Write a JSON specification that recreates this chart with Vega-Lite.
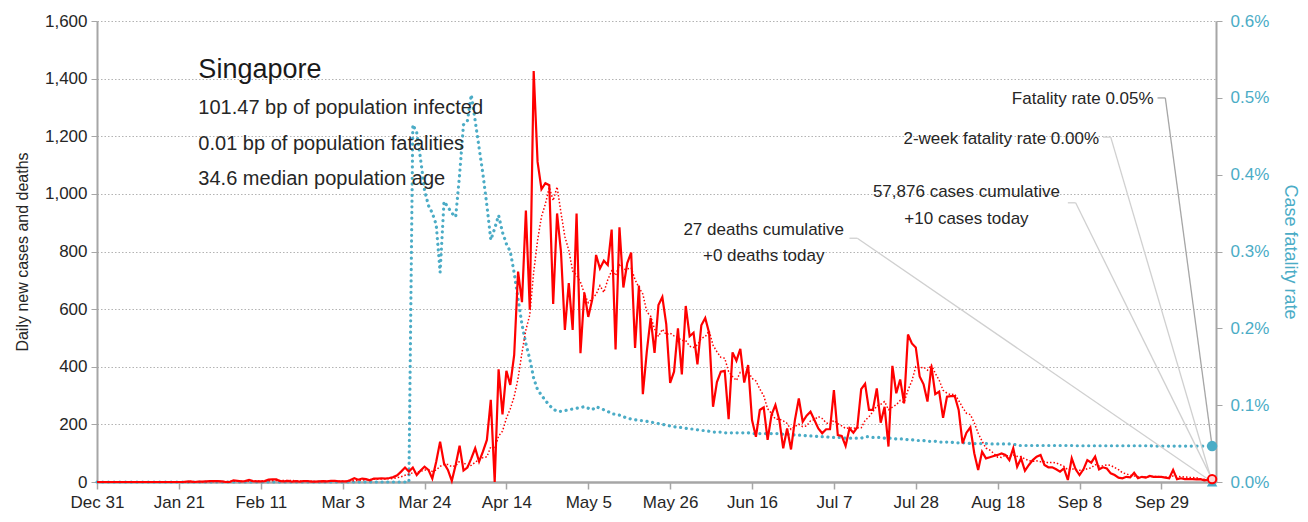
{
"$schema":"https://vega.github.io/schema/vega-lite/v6.json",
"width":1119,"height":461,
"autosize":{"type":"none"},
"padding":{"left":97,"top":21,"right":92,"bottom":40},
"background":"white",
"config":{"font":"Liberation Sans","view":{"stroke":null},
"axis":{"labelFont":"Liberation Sans","titleFont":"Liberation Sans","titleFontWeight":"normal","domainColor":"#a6a6a6","tickColor":"#a6a6a6","labelColor":"#262626","titleColor":"#262626"}},
"datasets":{
"series":[
{"date":"2019-12-31","cases":0,"cfr":0},{"date":"2020-01-01","cases":0,"cfr":0},{"date":"2020-01-02","cases":0,"cfr":0},{"date":"2020-01-03","cases":0,"cfr":0},{"date":"2020-01-04","cases":0,"cfr":0},{"date":"2020-01-05","cases":0,"cfr":0},{"date":"2020-01-06","cases":0,"cfr":0},{"date":"2020-01-07","cases":0,"cfr":0},{"date":"2020-01-08","cases":0,"cfr":0},{"date":"2020-01-09","cases":0,"cfr":0},{"date":"2020-01-10","cases":0,"cfr":0},{"date":"2020-01-11","cases":0,"cfr":0},{"date":"2020-01-12","cases":0,"cfr":0},{"date":"2020-01-13","cases":0,"cfr":0},{"date":"2020-01-14","cases":0,"cfr":0},{"date":"2020-01-15","cases":0,"cfr":0},{"date":"2020-01-16","cases":0,"cfr":0},{"date":"2020-01-17","cases":0,"cfr":0},{"date":"2020-01-18","cases":0,"cfr":0},{"date":"2020-01-19","cases":0,"cfr":0},{"date":"2020-01-20","cases":0,"cfr":0},{"date":"2020-01-21","cases":0,"cfr":0},{"date":"2020-01-22","cases":0,"cfr":0},
{"date":"2020-01-23","cases":1,"cfr":0},{"date":"2020-01-24","cases":2,"cfr":0},{"date":"2020-01-25","cases":0,"cfr":0},{"date":"2020-01-26","cases":1,"cfr":0},{"date":"2020-01-27","cases":1,"cfr":0},{"date":"2020-01-28","cases":2,"cfr":0},{"date":"2020-01-29","cases":3,"cfr":0},{"date":"2020-01-30","cases":3,"cfr":0},{"date":"2020-01-31","cases":3,"cfr":0},
{"date":"2020-02-01","cases":2,"cfr":0},{"date":"2020-02-02","cases":0,"cfr":0},{"date":"2020-02-03","cases":0,"cfr":0},{"date":"2020-02-04","cases":6,"cfr":0},{"date":"2020-02-05","cases":4,"cfr":0},{"date":"2020-02-06","cases":2,"cfr":0},{"date":"2020-02-07","cases":3,"cfr":0},{"date":"2020-02-08","cases":7,"cfr":0},{"date":"2020-02-09","cases":3,"cfr":0},{"date":"2020-02-10","cases":2,"cfr":0},{"date":"2020-02-11","cases":2,"cfr":0},{"date":"2020-02-12","cases":3,"cfr":0},{"date":"2020-02-13","cases":8,"cfr":0},{"date":"2020-02-14","cases":9,"cfr":0},{"date":"2020-02-15","cases":9,"cfr":0},{"date":"2020-02-16","cases":3,"cfr":0},{"date":"2020-02-17","cases":2,"cfr":0},{"date":"2020-02-18","cases":4,"cfr":0},{"date":"2020-02-19","cases":1,"cfr":0},{"date":"2020-02-20","cases":3,"cfr":0},{"date":"2020-02-21","cases":1,"cfr":0},{"date":"2020-02-22","cases":3,"cfr":0},{"date":"2020-02-23","cases":3,"cfr":0},{"date":"2020-02-24","cases":1,"cfr":0},{"date":"2020-02-25","cases":1,"cfr":0},{"date":"2020-02-26","cases":2,"cfr":0},{"date":"2020-02-27","cases":3,"cfr":0},{"date":"2020-02-28","cases":2,"cfr":0},{"date":"2020-02-29","cases":4,"cfr":0},
{"date":"2020-03-01","cases":4,"cfr":0},{"date":"2020-03-02","cases":2,"cfr":0},{"date":"2020-03-03","cases":2,"cfr":0},{"date":"2020-03-04","cases":2,"cfr":0},{"date":"2020-03-05","cases":7,"cfr":0},{"date":"2020-03-06","cases":13,"cfr":0},{"date":"2020-03-07","cases":8,"cfr":0},{"date":"2020-03-08","cases":12,"cfr":0},{"date":"2020-03-09","cases":10,"cfr":0},{"date":"2020-03-10","cases":6,"cfr":0},{"date":"2020-03-11","cases":12,"cfr":0},{"date":"2020-03-12","cases":12,"cfr":0},{"date":"2020-03-13","cases":13,"cfr":0},{"date":"2020-03-14","cases":12,"cfr":0},{"date":"2020-03-15","cases":14,"cfr":0},{"date":"2020-03-16","cases":17,"cfr":0},{"date":"2020-03-17","cases":23,"cfr":0},{"date":"2020-03-18","cases":36,"cfr":0},{"date":"2020-03-19","cases":50,"cfr":0},{"date":"2020-03-20","cases":36,"cfr":0},
{"date":"2020-03-21","cases":50,"cfr":0.00465},{"date":"2020-03-22","cases":24,"cfr":0.00455},{"date":"2020-03-23","cases":40,"cfr":0.0042},{"date":"2020-03-24","cases":53,"cfr":0.0038},{"date":"2020-03-25","cases":42,"cfr":0.0036},{"date":"2020-03-26","cases":12,"cfr":0.0035},{"date":"2020-03-27","cases":70,"cfr":0.00335},{"date":"2020-03-28","cases":140,"cfr":0.00273},{"date":"2020-03-29","cases":65,"cfr":0.00365},{"date":"2020-03-30","cases":42,"cfr":0.00358},{"date":"2020-03-31","cases":4,"cfr":0.0035},
{"date":"2020-04-01","cases":60,"cfr":0.00345},{"date":"2020-04-02","cases":126,"cfr":0.004},{"date":"2020-04-03","cases":40,"cfr":0.00465},{"date":"2020-04-04","cases":50,"cfr":0.0047},{"date":"2020-04-05","cases":82,"cfr":0.00504},{"date":"2020-04-06","cases":117,"cfr":0.0047},{"date":"2020-04-07","cases":71,"cfr":0.00435},{"date":"2020-04-08","cases":106,"cfr":0.004},{"date":"2020-04-09","cases":146,"cfr":0.0036},{"date":"2020-04-10","cases":285,"cfr":0.00315},{"date":"2020-04-11","cases":0,"cfr":0.0033},{"date":"2020-04-12","cases":391,"cfr":0.00347},{"date":"2020-04-13","cases":235,"cfr":0.00325},{"date":"2020-04-14","cases":386,"cfr":0.0031},{"date":"2020-04-15","cases":337,"cfr":0.003},{"date":"2020-04-16","cases":441,"cfr":0.00272},{"date":"2020-04-17","cases":730,"cfr":0.00238},{"date":"2020-04-18","cases":624,"cfr":0.00205},{"date":"2020-04-19","cases":942,"cfr":0.0018},{"date":"2020-04-20","cases":599,"cfr":0.0016},{"date":"2020-04-21","cases":1426,"cfr":0.00135},{"date":"2020-04-22","cases":1111,"cfr":0.0012},{"date":"2020-04-23","cases":1016,"cfr":0.00113},{"date":"2020-04-24","cases":1037,"cfr":0.00106},{"date":"2020-04-25","cases":1030,"cfr":0.001},{"date":"2020-04-26","cases":618,"cfr":0.00095},{"date":"2020-04-27","cases":932,"cfr":0.00092},{"date":"2020-04-28","cases":799,"cfr":0.00092},{"date":"2020-04-29","cases":528,"cfr":0.00093},{"date":"2020-04-30","cases":690,"cfr":0.00094},
{"date":"2020-05-01","cases":528,"cfr":0.00095},{"date":"2020-05-02","cases":932,"cfr":0.00096},{"date":"2020-05-03","cases":447,"cfr":0.00097},{"date":"2020-05-04","cases":657,"cfr":0.00098},{"date":"2020-05-05","cases":573,"cfr":0.00096},{"date":"2020-05-06","cases":632,"cfr":0.00094},{"date":"2020-05-07","cases":788,"cfr":0.00098},{"date":"2020-05-08","cases":741,"cfr":0.00096},{"date":"2020-05-09","cases":768,"cfr":0.00094},{"date":"2020-05-10","cases":753,"cfr":0.00092},{"date":"2020-05-11","cases":876,"cfr":0.00089},{"date":"2020-05-12","cases":460,"cfr":0.00088},{"date":"2020-05-13","cases":884,"cfr":0.00087},{"date":"2020-05-14","cases":675,"cfr":0.00085},{"date":"2020-05-15","cases":760,"cfr":0.00083},{"date":"2020-05-16","cases":796,"cfr":0.00082},{"date":"2020-05-17","cases":465,"cfr":0.00081},{"date":"2020-05-18","cases":682,"cfr":0.0008},{"date":"2020-05-19","cases":305,"cfr":0.0008},{"date":"2020-05-20","cases":451,"cfr":0.00079},{"date":"2020-05-21","cases":570,"cfr":0.00078},{"date":"2020-05-22","cases":448,"cfr":0.00077},{"date":"2020-05-23","cases":614,"cfr":0.00076},{"date":"2020-05-24","cases":642,"cfr":0.00075},{"date":"2020-05-25","cases":548,"cfr":0.00074},{"date":"2020-05-26","cases":344,"cfr":0.00073},{"date":"2020-05-27","cases":383,"cfr":0.00072},{"date":"2020-05-28","cases":533,"cfr":0.00071},{"date":"2020-05-29","cases":373,"cfr":0.00071},{"date":"2020-05-30","cases":611,"cfr":0.0007},{"date":"2020-05-31","cases":506,"cfr":0.00069},
{"date":"2020-06-01","cases":518,"cfr":0.00069},{"date":"2020-06-02","cases":408,"cfr":0.00068},{"date":"2020-06-03","cases":544,"cfr":0.00067},{"date":"2020-06-04","cases":569,"cfr":0.00067},{"date":"2020-06-05","cases":517,"cfr":0.00066},{"date":"2020-06-06","cases":261,"cfr":0.00065},{"date":"2020-06-07","cases":347,"cfr":0.00065},{"date":"2020-06-08","cases":383,"cfr":0.00065},{"date":"2020-06-09","cases":386,"cfr":0.00064},{"date":"2020-06-10","cases":218,"cfr":0.00064},{"date":"2020-06-11","cases":450,"cfr":0.00064},{"date":"2020-06-12","cases":421,"cfr":0.00064},{"date":"2020-06-13","cases":462,"cfr":0.00064},{"date":"2020-06-14","cases":345,"cfr":0.00064},{"date":"2020-06-15","cases":406,"cfr":0.00064},{"date":"2020-06-16","cases":215,"cfr":0.00063},{"date":"2020-06-17","cases":157,"cfr":0.00063},{"date":"2020-06-18","cases":250,"cfr":0.00063},{"date":"2020-06-19","cases":259,"cfr":0.00063},{"date":"2020-06-20","cases":146,"cfr":0.00063},{"date":"2020-06-21","cases":233,"cfr":0.00063},{"date":"2020-06-22","cases":267,"cfr":0.00063},{"date":"2020-06-23","cases":215,"cfr":0.00063},{"date":"2020-06-24","cases":117,"cfr":0.00062},{"date":"2020-06-25","cases":186,"cfr":0.00062},{"date":"2020-06-26","cases":113,"cfr":0.00062},{"date":"2020-06-27","cases":215,"cfr":0.00061},{"date":"2020-06-28","cases":290,"cfr":0.00061},{"date":"2020-06-29","cases":209,"cfr":0.00061},{"date":"2020-06-30","cases":230,"cfr":0.0006},
{"date":"2020-07-01","cases":244,"cfr":0.0006},{"date":"2020-07-02","cases":215,"cfr":0.0006},{"date":"2020-07-03","cases":186,"cfr":0.00059},{"date":"2020-07-04","cases":169,"cfr":0.00059},{"date":"2020-07-05","cases":183,"cfr":0.00059},{"date":"2020-07-06","cases":183,"cfr":0.00058},{"date":"2020-07-07","cases":319,"cfr":0.00058},{"date":"2020-07-08","cases":163,"cfr":0.00058},{"date":"2020-07-09","cases":160,"cfr":0.00058},{"date":"2020-07-10","cases":125,"cfr":0.00057},{"date":"2020-07-11","cases":186,"cfr":0.00057},{"date":"2020-07-12","cases":171,"cfr":0.00057},{"date":"2020-07-13","cases":190,"cfr":0.00057},{"date":"2020-07-14","cases":322,"cfr":0.00057},{"date":"2020-07-15","cases":341,"cfr":0.00059},{"date":"2020-07-16","cases":250,"cfr":0.00059},{"date":"2020-07-17","cases":250,"cfr":0.00058},{"date":"2020-07-18","cases":325,"cfr":0.00058},{"date":"2020-07-19","cases":206,"cfr":0.00058},{"date":"2020-07-20","cases":261,"cfr":0.00057},{"date":"2020-07-21","cases":123,"cfr":0.00057},{"date":"2020-07-22","cases":403,"cfr":0.00057},{"date":"2020-07-23","cases":308,"cfr":0.00056},{"date":"2020-07-24","cases":356,"cfr":0.00056},{"date":"2020-07-25","cases":273,"cfr":0.00056},{"date":"2020-07-26","cases":512,"cfr":0.00055},{"date":"2020-07-27","cases":481,"cfr":0.00055},{"date":"2020-07-28","cases":467,"cfr":0.00054},{"date":"2020-07-29","cases":366,"cfr":0.00054},{"date":"2020-07-30","cases":339,"cfr":0.00054},{"date":"2020-07-31","cases":279,"cfr":0.00053},
{"date":"2020-08-01","cases":403,"cfr":0.00053},{"date":"2020-08-02","cases":305,"cfr":0.00053},{"date":"2020-08-03","cases":314,"cfr":0.00052},{"date":"2020-08-04","cases":223,"cfr":0.00052},{"date":"2020-08-05","cases":296,"cfr":0.00052},{"date":"2020-08-06","cases":298,"cfr":0.00052},{"date":"2020-08-07","cases":298,"cfr":0.00051},{"date":"2020-08-08","cases":250,"cfr":0.00051},{"date":"2020-08-09","cases":134,"cfr":0.00051},{"date":"2020-08-10","cases":171,"cfr":0.00051},{"date":"2020-08-11","cases":190,"cfr":0.0005},{"date":"2020-08-12","cases":100,"cfr":0.0005},{"date":"2020-08-13","cases":42,"cfr":0.0005},{"date":"2020-08-14","cases":105,"cfr":0.0005},{"date":"2020-08-15","cases":82,"cfr":0.0005},{"date":"2020-08-16","cases":86,"cfr":0.000495},{"date":"2020-08-17","cases":90,"cfr":0.000495},{"date":"2020-08-18","cases":94,"cfr":0.000495},{"date":"2020-08-19","cases":99,"cfr":0.000495},{"date":"2020-08-20","cases":94,"cfr":0.000495},{"date":"2020-08-21","cases":76,"cfr":0.000495},{"date":"2020-08-22","cases":117,"cfr":0.000495},{"date":"2020-08-23","cases":53,"cfr":0.000475},{"date":"2020-08-24","cases":82,"cfr":0.000475},{"date":"2020-08-25","cases":39,"cfr":0.000475},{"date":"2020-08-26","cases":59,"cfr":0.000475},{"date":"2020-08-27","cases":76,"cfr":0.000475},{"date":"2020-08-28","cases":88,"cfr":0.000475},{"date":"2020-08-29","cases":94,"cfr":0.000475},{"date":"2020-08-30","cases":59,"cfr":0.000475},{"date":"2020-08-31","cases":51,"cfr":0.000475},
{"date":"2020-09-01","cases":51,"cfr":0.000475},{"date":"2020-09-02","cases":44,"cfr":0.000475},{"date":"2020-09-03","cases":36,"cfr":0.000475},{"date":"2020-09-04","cases":47,"cfr":0.000475},{"date":"2020-09-05","cases":7,"cfr":0.000475},{"date":"2020-09-06","cases":82,"cfr":0.000475},{"date":"2020-09-07","cases":44,"cfr":0.000472},{"date":"2020-09-08","cases":24,"cfr":0.000472},{"date":"2020-09-09","cases":44,"cfr":0.000472},{"date":"2020-09-10","cases":76,"cfr":0.000472},{"date":"2020-09-11","cases":67,"cfr":0.000472},{"date":"2020-09-12","cases":88,"cfr":0.000472},{"date":"2020-09-13","cases":44,"cfr":0.000472},{"date":"2020-09-14","cases":51,"cfr":0.000472},{"date":"2020-09-15","cases":47,"cfr":0.000472},{"date":"2020-09-16","cases":30,"cfr":0.000472},{"date":"2020-09-17","cases":24,"cfr":0.000472},{"date":"2020-09-18","cases":15,"cfr":0.000472},{"date":"2020-09-19","cases":13,"cfr":0.000472},{"date":"2020-09-20","cases":18,"cfr":0.000472},{"date":"2020-09-21","cases":16,"cfr":0.000472},{"date":"2020-09-22","cases":32,"cfr":0.000472},{"date":"2020-09-23","cases":13,"cfr":0.000472},{"date":"2020-09-24","cases":18,"cfr":0.000472},{"date":"2020-09-25","cases":15,"cfr":0.000472},{"date":"2020-09-26","cases":21,"cfr":0.000472},{"date":"2020-09-27","cases":18,"cfr":0.000468},{"date":"2020-09-28","cases":18,"cfr":0.000468},{"date":"2020-09-29","cases":18,"cfr":0.000468},{"date":"2020-09-30","cases":15,"cfr":0.000468},
{"date":"2020-10-01","cases":13,"cfr":0.000468},{"date":"2020-10-02","cases":42,"cfr":0.000468},{"date":"2020-10-03","cases":10,"cfr":0.000468},{"date":"2020-10-04","cases":13,"cfr":0.000468},{"date":"2020-10-05","cases":10,"cfr":0.000468},{"date":"2020-10-06","cases":10,"cfr":0.000468},{"date":"2020-10-07","cases":10,"cfr":0.000468},{"date":"2020-10-08","cases":9,"cfr":0.000468},{"date":"2020-10-09","cases":10,"cfr":0.000467},{"date":"2020-10-10","cases":6,"cfr":0.000467},{"date":"2020-10-11","cases":8,"cfr":0.000467},{"date":"2020-10-12","cases":10,"cfr":0.000467}
],
"today":[{"date":"2020-10-12","cases":10,"deaths":0,"cfr":0.000467,"cfr2w":0}],
"notes":[
{"kind":"title","date":"2020-01-26","value":1403,"text":"Singapore"},
{"kind":"stat","date":"2020-01-26","value":1277,"text":"101.47 bp of population infected"},
{"kind":"stat","date":"2020-01-26","value":1152,"text":"0.01 bp of population fatalities"},
{"kind":"stat","date":"2020-01-26","value":1031,"text":"34.6 median population age"},
{"kind":"right","date":"2020-09-27","value":1312,"text":"Fatality rate 0.05%"},
{"kind":"right","date":"2020-09-13","value":1173,"text":"2-week fatality rate 0.00%"},
{"kind":"center","date":"2020-08-10","value":988,"text":"57,876 cases cumulative"},
{"kind":"center","date":"2020-08-10","value":895,"text":"+10 cases today"},
{"kind":"center","date":"2020-06-19","value":857,"text":"27 deaths cumulative"},
{"kind":"center","date":"2020-06-19","value":768,"text":"+0 deaths today"}
],
"leaders":[
{"line":"rate","date":"2020-09-28","value":1333,"date2":"2020-09-30","value2":1333},
{"line":"rate","date":"2020-09-30","value":1333,"date2":"2020-10-12","value2":124.5},
{"line":"twoweek","date":"2020-09-14","value":1197,"date2":"2020-09-16","value2":1197},
{"line":"twoweek","date":"2020-09-16","value":1197,"date2":"2020-10-12","value2":0},
{"line":"cases","date":"2020-09-05","value":969,"date2":"2020-09-07","value2":969},
{"line":"cases","date":"2020-09-07","value":969,"date2":"2020-10-12","value2":10},
{"line":"deaths","date":"2020-07-11","value":846,"date2":"2020-07-13","value2":846},
{"line":"deaths","date":"2020-07-13","value":846,"date2":"2020-10-12","value2":0}
]
},
"encoding":{
"x":{"field":"date","type":"temporal",
"scale":{"type":"utc","nice":false,"domain":["2019-12-31T00:00:00Z","2020-10-13T00:00:00Z"]},
"axis":{"title":null,"format":"%b %-d","labelFontSize":17,"tickSize":7,"labelPadding":5,"domainWidth":2.5,"tickWidth":1.5,"grid":false,"labelOverlap":false,"labelFlush":false,
"values":[{"year":2019,"month":12,"date":31,"utc":true},{"year":2020,"month":1,"date":21,"utc":true},{"year":2020,"month":2,"date":11,"utc":true},{"year":2020,"month":3,"date":3,"utc":true},{"year":2020,"month":3,"date":24,"utc":true},{"year":2020,"month":4,"date":14,"utc":true},{"year":2020,"month":5,"date":5,"utc":true},{"year":2020,"month":5,"date":26,"utc":true},{"year":2020,"month":6,"date":16,"utc":true},{"year":2020,"month":7,"date":7,"utc":true},{"year":2020,"month":7,"date":28,"utc":true},{"year":2020,"month":8,"date":18,"utc":true},{"year":2020,"month":9,"date":8,"utc":true},{"year":2020,"month":9,"date":29,"utc":true}]}}
},
"layer":[
{"data":{"name":"series"},
"mark":{"type":"line","color":"#4BACC6","strokeWidth":3.2,"strokeDash":[0.1,5.6],"strokeCap":"round"},
"encoding":{
"y":{"field":"cfr","type":"quantitative","scale":{"domain":[0,0.006],"nice":false},
"axis":{"orient":"right","title":"Case fatality rate","values":[0,0.001,0.002,0.003,0.004,0.005,0.006],"format":".1%","labelColor":"#4BACC6","titleColor":"#4BACC6","labelFontSize":17,"titleFontSize":18,"grid":false,"tickSize":6,"domainWidth":2,"labelPadding":8,"titlePadding":12}}}},
{"data":{"name":"series"},
"mark":{"type":"line","color":"#FF0000","strokeWidth":2.2},
"encoding":{
"y":{"field":"cases","type":"quantitative","scale":{"domain":[0,1600],"nice":false},
"axis":{"orient":"left","title":"Daily new cases and deaths","values":[0,200,400,600,800,1000,1200,1400,1600],"format":",d","labelFontSize":17,"titleFontSize":16,"grid":true,"gridDash":[1.5,2],"gridColor":"#b3b3b3","tickSize":6,"domainWidth":2,"labelPadding":4,"titlePadding":14}}}},
{"data":{"name":"series"},
"transform":[{"window":[{"op":"mean","field":"cases","as":"avg"}],"frame":[-6,0],"sort":[{"field":"date","order":"ascending"}]}],
"mark":{"type":"line","color":"#FF0000","strokeWidth":1.5,"strokeDash":[1.5,2]},
"encoding":{"y":{"field":"avg","type":"quantitative","scale":{"domain":[0,1600],"nice":false},"axis":null}}},
{"data":{"name":"leaders","format":{"parse":{"date":"date","date2":"date"}}},
"transform":[{"filter":"datum.line == 'rate'"}],
"mark":{"type":"rule","color":"#a6a6a6","strokeWidth":1.3},
"encoding":{"x2":{"field":"date2"},
"y":{"field":"value","type":"quantitative","scale":{"domain":[0,1600],"nice":false},"axis":null},"y2":{"field":"value2"}}},
{"data":{"name":"leaders","format":{"parse":{"date":"date","date2":"date"}}},
"transform":[{"filter":"datum.line != 'rate'"}],
"mark":{"type":"rule","color":"#d0d0d0","strokeWidth":1.3},
"encoding":{"x2":{"field":"date2"},
"y":{"field":"value","type":"quantitative","scale":{"domain":[0,1600],"nice":false},"axis":null},"y2":{"field":"value2"}}},
{"data":{"name":"notes"},"transform":[{"filter":"datum.kind == 'title'"}],
"mark":{"type":"text","align":"left","baseline":"alphabetic","fontSize":27,"color":"#1a1a1a"},
"encoding":{"y":{"field":"value","type":"quantitative","scale":{"domain":[0,1600],"nice":false},"axis":null},"text":{"field":"text"}}},
{"data":{"name":"notes"},"transform":[{"filter":"datum.kind == 'stat'"}],
"mark":{"type":"text","align":"left","baseline":"alphabetic","fontSize":20,"color":"#262626"},
"encoding":{"y":{"field":"value","type":"quantitative","scale":{"domain":[0,1600],"nice":false},"axis":null},"text":{"field":"text"}}},
{"data":{"name":"notes"},"transform":[{"filter":"datum.kind == 'right'"}],
"mark":{"type":"text","align":"right","baseline":"alphabetic","fontSize":17,"color":"#262626"},
"encoding":{"y":{"field":"value","type":"quantitative","scale":{"domain":[0,1600],"nice":false},"axis":null},"text":{"field":"text"}}},
{"data":{"name":"notes"},"transform":[{"filter":"datum.kind == 'center'"}],
"mark":{"type":"text","align":"center","baseline":"alphabetic","fontSize":17,"color":"#262626"},
"encoding":{"y":{"field":"value","type":"quantitative","scale":{"domain":[0,1600],"nice":false},"axis":null},"text":{"field":"text"}}},
{"data":{"name":"today"},
"mark":{"type":"point","shape":"circle","filled":true,"color":"#4BACC6","size":110,"opacity":1},
"encoding":{"y":{"field":"cfr","type":"quantitative","scale":{"domain":[0,0.006],"nice":false},"axis":null}}},
{"data":{"name":"today"},
"mark":{"type":"point","shape":"triangle-up","filled":true,"color":"#4BACC6","size":110,"opacity":1},
"encoding":{"y":{"field":"cfr2w","type":"quantitative","scale":{"domain":[0,0.006],"nice":false},"axis":null}}},
{"data":{"name":"today"},
"mark":{"type":"point","shape":"circle","filled":true,"fill":"#ffd6d6","stroke":"#FF0000","strokeWidth":2,"size":70,"opacity":1},
"encoding":{"y":{"field":"cases","type":"quantitative","scale":{"domain":[0,1600],"nice":false},"axis":null}}}
],
"resolve":{"scale":{"y":"independent"}}
}
